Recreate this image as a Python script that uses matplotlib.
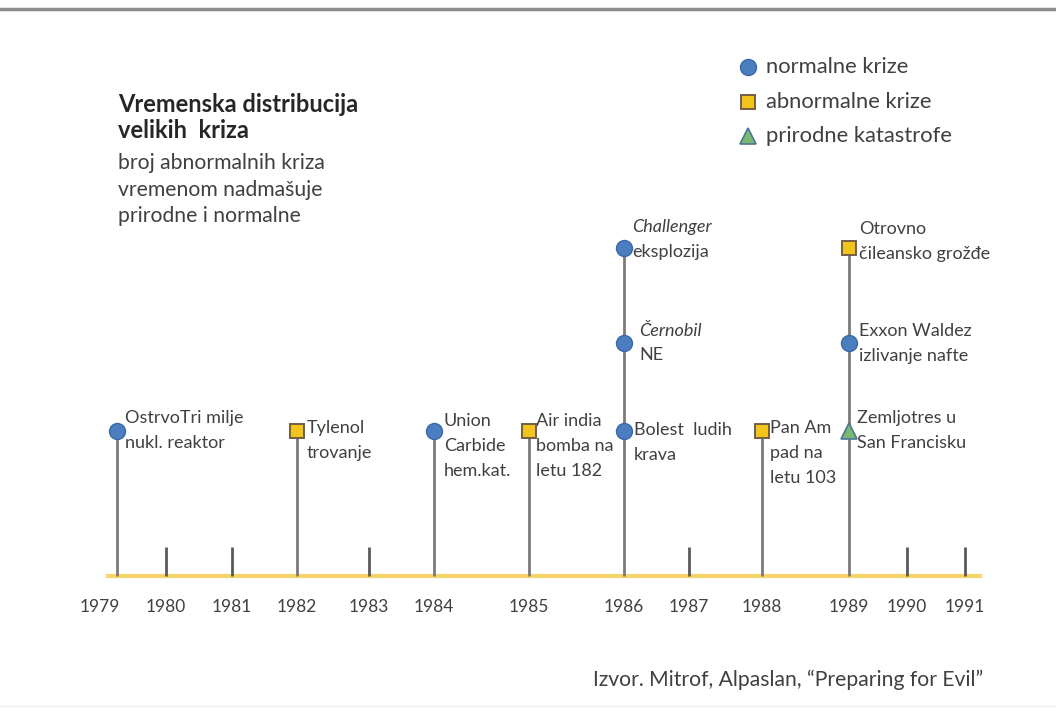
import numpy as np
import matplotlib
matplotlib.use("Agg")
import matplotlib.pyplot as plt
from matplotlib.lines import Line2D

# ---------------- data ----------------
year_ticks = [1979, 1980, 1981, 1982, 1983, 1984, 1985, 1986, 1987, 1988, 1989, 1990, 1991]
year_labels = [str(y) for y in year_ticks]
minor_years = [1980, 1981, 1983, 1987, 1990, 1991]

event_years = [1979.25, 1982, 1984, 1985, 1986, 1986, 1986, 1988, 1989, 1989, 1989]
event_levels = [1, 1, 1, 1, 1, 2, 3, 1, 1, 2, 3]
event_types = ["normal", "abnormal", "normal", "abnormal", "normal", "normal",
               "normal", "abnormal", "natural", "normal", "abnormal"]
event_labels = [
    ["OstrvoTri milje", "nukl. reaktor"],
    ["Tylenol", "trovanje"],
    ["Union", "Carbide", "hem.kat."],
    ["Air india", "bomba na", "letu 182"],
    ["Bolest  ludih", "krava"],
    ["Černobil", "NE"],
    ["Challenger", "eksplozija"],
    ["Pan Am", "pad na", "letu 103"],
    ["Zemljotres u", "San Francisku"],
    ["Exxon Waldez", "izlivanje nafte"],
    ["Otrovno", "čileansko grožđe"],
]
italic_first = [False, False, False, False, False, True, True, False, False, False, False]

legend_types = ["normal", "abnormal", "natural"]
legend_labels = ["normalne krize", "abnormalne krize", "prirodne katastrofe"]

title_lines = ["Vremenska distribucija", "velikih  kriza"]
subtitle_lines = ["broj abnormalnih kriza", "vremenom nadmašuje", "prirodne i normalne"]
source_text = "Izvor. Mitrof, Alpaslan, \u201cPreparing for Evil\u201d"

# ---------------- layout / style ----------------
W, H = 1056, 713
FONT = "Lato"
TXT = "#404040"
styles = {
    "normal": dict(marker="o", ms=11.5, mfc="#4a7ebf", mec="#3b68a8", mew=1.0),
    "abnormal": dict(marker="s", ms=9.5, mfc="#f2c51c", mec="#735f45", mew=1.4),
    "natural": dict(marker="^", ms=12, mfc="#79b86e", mec="#4d7596", mew=1.2),
}
# irregular time axis: year -> pixel offset from 1979 (layout of the original)
_px = [0, 66, 132, 197, 269, 334, 429, 524, 589, 662, 749, 807, 865]
_lv = [0, 1, 2, 3]
_lp = [0, 145, 233, 328]

def fx(x):
    return np.interp(x, year_ticks, _px)
def ix(p):
    return np.interp(p, _px, year_ticks)
def fy(y):
    return np.interp(y, _lv, _lp)
def iy(p):
    return np.interp(p, _lp, _lv)

fig = plt.figure(figsize=(W / 100, H / 100), dpi=100)
fig.patch.set_facecolor("white")
ax = fig.add_axes([100 / W, (H - 576) / H, 865 / W, 328 / H])
ax.set_xscale("function", functions=(fx, ix))
ax.set_yscale("function", functions=(fy, iy))
ax.set_xlim(1979, 1991)
ax.set_ylim(0, 3)
ax.axis("off")

# baseline
ax.axhline(0, xmin=8 / 865, xmax=880 / 865, color="#f7d46a", lw=3, clip_on=False, zorder=1)

# minor ticks
ax.vlines(minor_years, 0, 0.2, color="#5a5a5a", lw=2, zorder=2, clip_on=False)

# stems
stem_top = {}
for x, lv in zip(event_years, event_levels):
    stem_top[x] = max(stem_top.get(x, 0), lv)
ax.vlines(list(stem_top.keys()), 0, list(stem_top.values()), color="#7a7a7a", lw=2,
          zorder=2, clip_on=False)

# markers + labels
label_dy = [9, 2, 7, 7, 1, 9, 15, 2, 9, 9, 14]  # vertical shift of first line (points)
label_dx = [6, 7, 7, 5, 7, 11, 6, 6, 6, 7, 7]
for i, (x, lv, t, lines) in enumerate(zip(event_years, event_levels, event_types, event_labels)):
    ax.plot([x], [lv], linestyle="none", zorder=4, clip_on=False, **styles[t])
    for j, line in enumerate(lines):
        ax.annotate(line, (x, lv), xytext=(label_dx[i], label_dy[i] - j * 18),
                    textcoords="offset points", ha="left", va="center",
                    fontsize=13, color=TXT, family=FONT,
                    style="italic" if (j == 0 and italic_first[i]) else "normal",
                    annotation_clip=False)

# year labels
for y, lab in zip(year_ticks, year_labels):
    ax.annotate(lab, (y, 0), xytext=(0, -22.5), textcoords="offset points",
                ha="center", va="center", fontsize=12.5, color=TXT, family=FONT,
                annotation_clip=False)

# title block
for k, line in enumerate(title_lines):
    fig.text(118 / W, 1 - (104 + 26 * k) / H, line, ha="left", va="center",
             fontsize=17, fontweight="bold", color="#262626", family=FONT)
for k, line in enumerate(subtitle_lines):
    fig.text(118 / W, 1 - (163 + 26.5 * k) / H, line, ha="left", va="center",
             fontsize=15.2, color=TXT, family=FONT)

# legend
for k, (t, lab) in enumerate(zip(legend_types, legend_labels)):
    yy = 1 - (67 + 34.5 * k) / H
    st = dict(styles[t])
    fig.add_artist(Line2D([748 / W], [yy], transform=fig.transFigure, linestyle="none", **st))
    fig.text(766 / W, yy, lab, ha="left", va="center", fontsize=15.8, color=TXT, family=FONT)

# source
fig.text(983 / W, 1 - 680 / H, source_text, ha="right", va="center",
         fontsize=15.2, color=TXT, family=FONT)

# frame lines
fig.add_artist(Line2D([0, 1], [1 - 9 / H, 1 - 9 / H], transform=fig.transFigure,
                      color="#8c8c8c", lw=2.5))
fig.add_artist(Line2D([0, 1], [1 - 706 / H, 1 - 706 / H], transform=fig.transFigure,
                      color="#f0f0f0", lw=1))

fig.savefig("out.png", dpi=100, facecolor="white")
